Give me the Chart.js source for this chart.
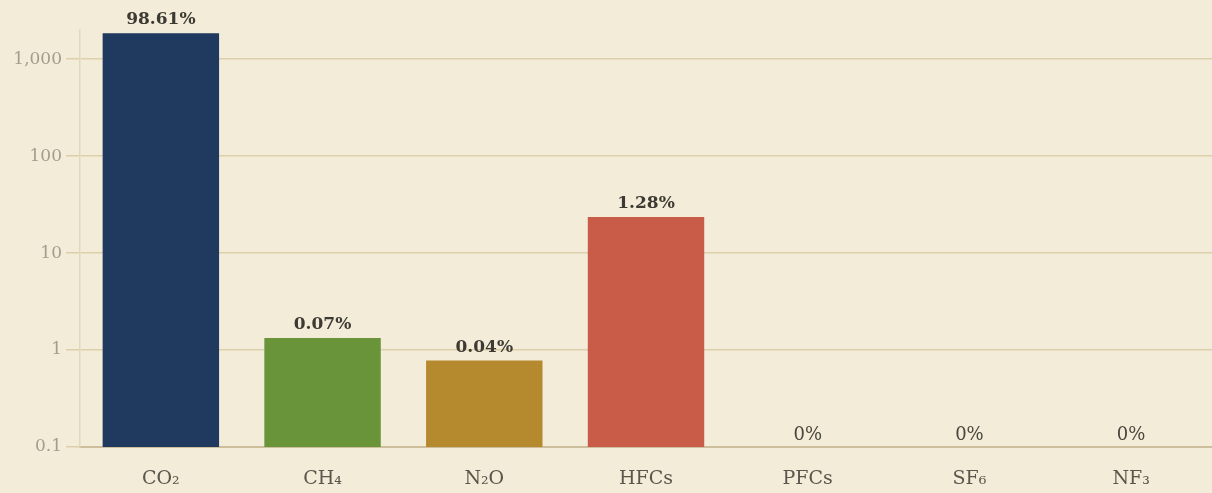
<!DOCTYPE html>
<html>
<head>
<meta charset="utf-8">
<script src="https://cdn.jsdelivr.net/npm/chart.js@4"></script>
<style>
    html, body { margin: 0; padding: 0; background: #f3ecd9; }
    #wrap { width: 1212px; height: 493px; }
</style>
</head>
<body>
<div id="wrap"><canvas id="gasChart"></canvas></div>
<script>
// Data
const gases = ['CO\u2082', 'CH\u2084', 'N\u2082O', 'HFCs', 'PFCs', 'SF\u2086', 'NF\u2083'];
const emissions = [1850, 1.33, 0.78, 23.5, 0, 0, 0];
const shares = ['98.61%', '0.07%', '0.04%', '1.28%', '0%', '0%', '0%'];
const barColors = ['#1f3a5e', '#6a9439', '#b5892e', '#c85c49', '#999', '#999', '#999'];
const yTicks = [0.1, 1, 10, 100, 1000];

const serif = "'DejaVu Serif', 'Liberation Serif', serif";

// draws share labels on top of each bar
const shareLabels = {
    id: 'shareLabels',
    afterDatasetsDraw(chart) {
        const ctx = chart.ctx;
        const meta = chart.getDatasetMeta(0);
        const yScale = chart.scales.y;
        ctx.save();
        ctx.textAlign = 'center';
        ctx.textBaseline = 'alphabetic';
        meta.data.forEach((bar, i) => {
            const v = emissions[i];
            if (v > 0) {
                ctx.fillStyle = '#3d3a33';
                ctx.font = 'bold 17px ' + serif;
                ctx.fillText(shares[i], bar.x, bar.y - 9);
            } else {
                ctx.fillStyle = '#4a463e';
                ctx.font = '18px ' + serif;
                ctx.fillText(shares[i], bar.x, yScale.bottom - 7);
            }
        });
        ctx.restore();
    }
};

new Chart(document.getElementById('gasChart'), {
    type: 'bar',
    data: {
        labels: gases,
        datasets: [{
            data: emissions,
            backgroundColor: barColors,
            borderWidth: 0
        }]
    },
    options: {
        responsive: true,
        maintainAspectRatio: false,
        animation: false,
        layout: { padding: { top: 30, right: 0, left: 0, bottom: 0 } },
        plugins: {
            legend: { display: false },
            tooltip: { enabled: false }
        },
        scales: {
            x: {
                grid: { display: false },
                border: { display: true, color: '#cdbf9c', width: 2 },
                afterFit: scale => { scale.height = 46; },
                ticks: {
                    color: '#5a564c',
                    padding: 13,
                    font: { family: serif, size: 19 }
                }
            },
            y: {
                type: 'logarithmic',
                min: 0.1,
                max: 2000,
                afterBuildTicks: scale => {
                    scale.ticks = yTicks.map(v => ({ value: v }));
                },
                afterFit: scale => { scale.width = 80; },
                grid: { color: '#ddcfab', tickLength: 14, lineWidth: 1.5 },
                border: { display: true, color: '#e2d8bd', width: 1.5 },
                ticks: {
                    color: '#a39d8d',
                    padding: 4,
                    font: { family: serif, size: 17 },
                    callback: v => v >= 1 ? v.toLocaleString('en-US') : String(v)
                }
            }
        }
    },
    plugins: [shareLabels]
});
</script>
</body>
</html>
